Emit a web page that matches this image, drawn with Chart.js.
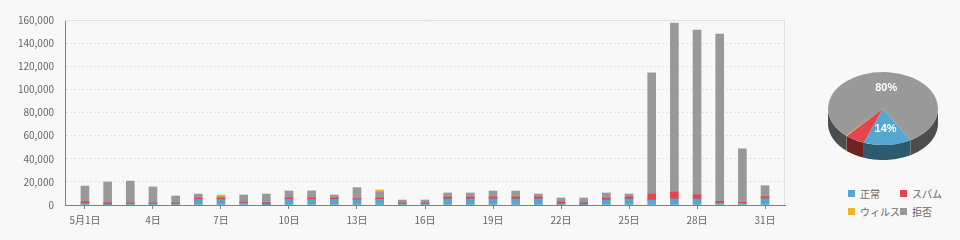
<!DOCTYPE html>
<html>
<head>
<meta charset="utf-8">
<script src="https://cdn.jsdelivr.net/npm/chart.js@4.4.1/dist/chart.umd.min.js"></script>
<style>
  body { margin: 0; background: #f8f8f8; width: 960px; height: 240px; overflow: hidden; position: relative; font-family: "Noto Sans CJK JP", sans-serif; }
  #barBox { position: absolute; left: 0; top: 0; width: 800px; height: 240px; }
  #pieBox { position: absolute; left: 818px; top: 48px; width: 130px; height: 121px; }
  .item { position: absolute; font-size: 10px; color: #666; line-height: 12px; white-space: nowrap; }
  .item i { position: absolute; left: 0; top: 2px; width: 7px; height: 7px; }
  .item b { font-weight: normal; margin-left: 12px; }
</style>
</head>
<body>
<div id="barBox"><canvas id="bars"></canvas></div>
<div id="pieBox"><canvas id="pie"></canvas></div>
<div id="legend"></div>
<script>
// 5月の日別件数
var days = [1, 2, 3, 4, 5, 6, 7, 8, 9, 10, 11, 12, 13, 14, 15, 16, 17, 18, 19, 20, 21, 22, 23, 24, 25, 26, 27, 28, 29, 30, 31];
var normal = [1200, 300, 900, 900, 900, 4900, 4900, 1700, 200, 4900, 4900, 4900, 4600, 4900, 900, 900, 5200, 5200, 5200, 5200, 5200, 900, 200, 4300, 5200, 4300, 5200, 5200, 1400, 1400, 5500];
var spam = [1800, 1700, 900, 900, 900, 1100, 1100, 900, 1700, 1150, 1150, 1150, 900, 1150, 900, 900, 1700, 1700, 1700, 1700, 1700, 1700, 1700, 1700, 1700, 5200, 6000, 3500, 1700, 900, 1700];
var virus = [null, null, null, null, null, null, 1500, null, null, null, null, null, null, 1700, null, null, null, null, null, null, null, null, null, null, null, null, null, null, null, null, null];
var reject = [13400, 17900, 18900, 13800, 6000, 3500, 1150, 6050, 7600, 6050, 6150, 2600, 9500, 5250, 2500, 2500, 3500, 3500, 5200, 5200, 2600, 3450, 4150, 4400, 2600, 104800, 146200, 142600, 144800, 46300, 9500];

var xTickDays = [1, 4, 7, 10, 13, 16, 19, 22, 25, 28, 31];
var xTickLabels = ["5月1日", "4日", "7日", "10日", "13日", "16日", "19日", "22日", "25日", "28日", "31日"];

// 円グラフ (%)
var pieLabels = ["正常", "スパム", "ウィルス", "拒否"];
var pieValues = [14, 5.8, 0.2, 80];

var colors = ["#54a8cf", "#e0464b", "#f0b51e", "#999999"];
var sideColors = ["#2c5a6f", "#6f2222", "#7a5a10", "#4d4d4d"];

var font = { family: "'Noto Sans CJK JP', sans-serif", size: 10 };

// 枠線 (上と右)
var frame = {
  id: "frame",
  afterDraw: function (chart) {
    var a = chart.chartArea, ctx = chart.ctx;
    ctx.save();
    ctx.strokeStyle = "#e0e0e0";
    ctx.lineWidth = 1;
    ctx.beginPath();
    ctx.moveTo(a.left, a.top + 0.5);
    ctx.lineTo(a.right - 0.5, a.top + 0.5);
    ctx.lineTo(a.right - 0.5, a.bottom);
    ctx.stroke();
    ctx.restore();
  }
};

new Chart(document.getElementById("bars"), {
  type: "bar",
  data: {
    labels: days,
    datasets: [
      { label: "正常", data: normal, backgroundColor: colors[0] },
      { label: "スパム", data: spam, backgroundColor: colors[1] },
      { label: "拒否", data: reject, backgroundColor: colors[3] },
      { label: "ウィルス", data: virus, backgroundColor: colors[2] }
    ]
  },
  options: {
    responsive: true,
    maintainAspectRatio: false,
    animation: false,
    barThickness: 8,
    skipNull: true,
    layout: { padding: { left: 0, top: 20, right: 15, bottom: 0 } },
    plugins: { legend: { display: false }, tooltip: { enabled: false } },
    scales: {
      x: {
        type: "linear",
        stacked: true,
        offset: false,
        min: 0.12,
        max: 31.88,
        afterBuildTicks: function (scale) {
          scale.ticks = xTickDays.map(function (v) { return { value: v }; });
        },
        afterFit: function (scale) { scale.height = 35; },
        grid: { offset: false, drawOnChartArea: false, tickLength: 4, tickColor: "#808080" },
        border: { color: "#808080" },
        ticks: {
          autoSkip: false,
          maxRotation: 0,
          padding: 5,
          color: "#666",
          font: font,
          callback: function (v) { return xTickLabels[xTickDays.indexOf(v)]; }
        }
      },
      y: {
        stacked: true,
        min: 0,
        max: 160000,
        afterFit: function (scale) { scale.width = 65; },
        grid: { drawTicks: false, color: "#e2e2e2" },
        border: { color: "#808080", dash: [2, 2] },
        ticks: {
          stepSize: 20000,
          padding: 11,
          color: "#666",
          font: font,
          callback: function (v) { return v.toLocaleString("en-US"); }
        }
      }
    }
  },
  plugins: [frame]
});

// 立体円グラフ
var squash = 0.664, depth = 15;
var pie3d = {
  id: "pie3d",
  beforeDatasetsDraw: function (chart) {
    var ctx = chart.ctx;
    var arcs = chart.getDatasetMeta(0).data;
    arcs.forEach(function (arc, i) {
      var cx = arc.x, cy = arc.y, r = arc.outerRadius;
      for (var k = -1; k <= 2; k++) {
        var lo = Math.max(arc.startAngle, 2 * Math.PI * k);
        var hi = Math.min(arc.endAngle, 2 * Math.PI * k + Math.PI);
        if (lo >= hi) continue;
        ctx.beginPath();
        var n = 40, t;
        for (var j = 0; j <= n; j++) {
          t = lo + (hi - lo) * j / n;
          ctx.lineTo(cx + r * Math.cos(t), cy + r * squash * Math.sin(t));
        }
        for (j = n; j >= 0; j--) {
          t = lo + (hi - lo) * j / n;
          ctx.lineTo(cx + r * Math.cos(t), cy + r * squash * Math.sin(t) + depth);
        }
        ctx.closePath();
        ctx.fillStyle = sideColors[i];
        ctx.fill();
      }
    });
    var cy0 = arcs[0].y;
    ctx.save();
    ctx.translate(0, cy0);
    ctx.scale(1, squash);
    ctx.translate(0, -cy0);
  },
  afterDatasetsDraw: function (chart) {
    var ctx = chart.ctx;
    ctx.restore();
    var arcs = chart.getDatasetMeta(0).data;
    ctx.save();
    ctx.font = "bold 11px 'Liberation Sans', Arial, sans-serif";
    ctx.fillStyle = "#fff";
    ctx.textAlign = "center";
    ctx.textBaseline = "middle";
    arcs.forEach(function (arc, i) {
      if (pieValues[i] < 10) return;
      var mid = (arc.startAngle + arc.endAngle) / 2;
      var rr = arc.outerRadius * 0.56;
      ctx.fillText(Math.round(pieValues[i]) + "%", arc.x + rr * Math.cos(mid), arc.y + rr * squash * Math.sin(mid));
    });
    ctx.restore();
  }
};

new Chart(document.getElementById("pie"), {
  type: "pie",
  data: {
    labels: pieLabels,
    datasets: [{ data: pieValues, backgroundColor: colors, borderWidth: 0, clip: false }]
  },
  options: {
    responsive: true,
    maintainAspectRatio: false,
    animation: false,
    rotation: 150,
    radius: 55,
    plugins: { legend: { display: false }, tooltip: { enabled: false } }
  },
  plugins: [pie3d]
});

// 凡例
var legendPos = [[848, 188], [900, 188], [848, 206], [900, 206]];
var legend = document.getElementById("legend");
pieLabels.forEach(function (name, i) {
  var d = document.createElement("div");
  d.className = "item";
  d.style.left = legendPos[i][0] + "px";
  d.style.top = legendPos[i][1] + "px";
  d.innerHTML = '<i style="background:' + colors[i] + '"></i><b>' + name + "</b>";
  legend.appendChild(d);
});
</script>
</body>
</html>
